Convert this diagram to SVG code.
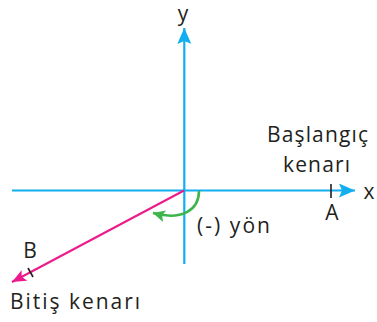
<svg xmlns="http://www.w3.org/2000/svg" width="377" height="322" viewBox="0 0 377 322">
<style>
.axis{stroke:#13aef0;stroke-width:2.2;fill:none}
.edge{stroke:#ec1a8c;stroke-width:2;fill:none}
.arc{stroke:#3db54a;stroke-width:2.6;fill:none}
.tick{stroke:#231f20;stroke-width:1.6}
text{font-family:"Open Sans","DejaVu Sans",sans-serif;fill:#231f20;font-size:21px}
</style>
<defs>
<marker id="mBlue" markerUnits="userSpaceOnUse" markerWidth="18" markerHeight="14" refX="16" refY="7" orient="auto"><path d="M0,0 L16,7 L0,14 L3,7 Z" fill="#13aef0"/></marker>
<marker id="mPink" markerUnits="userSpaceOnUse" markerWidth="16" markerHeight="12" refX="14" refY="6" orient="auto"><path d="M0,0 L14,6 L0,12 L3,6 Z" fill="#ec1a8c"/></marker>
<marker id="mGreen" markerUnits="userSpaceOnUse" markerWidth="14" markerHeight="12" refX="12" refY="6" orient="auto"><path d="M0,0 L12,6 L0,12 L2.5,6 Z" fill="#3db54a"/></marker>
</defs>
<g id="connectors">
<line class="axis" x1="12" y1="190.5" x2="355" y2="190.5" marker-end="url(#mBlue)"/>
<line class="axis" x1="184.3" y1="264" x2="184.3" y2="28" marker-end="url(#mBlue)"/>
<line class="edge" x1="184" y1="190.5" x2="12" y2="282" marker-end="url(#mPink)"/>
<path class="arc" d="M199,191 C199,210 182,221 153,213" marker-end="url(#mGreen)"/>
</g>
<g id="y-label"><text x="183" y="21" text-anchor="middle" font-size="22">y</text></g>
<g id="x-label"><text x="369" y="199" text-anchor="middle" font-size="22">x</text></g>
<g id="point-A">
<line class="tick" x1="331" y1="184" x2="331" y2="198"/>
<text x="332" y="220" text-anchor="middle" font-size="22">A</text>
</g>
<g id="point-B">
<line class="tick" x1="28" y1="268" x2="33" y2="277"/>
<text x="30" y="258" text-anchor="middle">B</text>
</g>
<g id="start-edge"><text x="267" y="142" textLength="101">Başlangıç</text><text x="283" y="172" textLength="67">kenarı</text></g>
<g id="end-edge"><text x="10" y="309" textLength="130">Bitiş kenarı</text></g>
<g id="direction"><text x="197" y="233" textLength="73">(-) yön</text></g>
</svg>
